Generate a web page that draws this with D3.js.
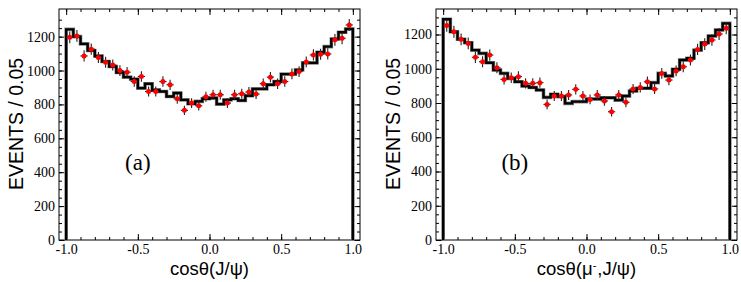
<!DOCTYPE html>
<html>
<head>
<meta charset="utf-8">
<script src="https://cdn.jsdelivr.net/npm/d3@7"></script>
<style>
  html, body { margin: 0; padding: 0; background: #fff; }
  svg { display: block; }
</style>
</head>
<body>
<svg id="chart" width="741" height="282"></svg>
<script>
// ---------------- data ----------------
const binEdges = d3.range(0, 41).map(i => -1 + 0.05 * i);          // 40 bins of 0.05
const xMajorTicks = [-1.0, -0.5, 0.0, 0.5, 1.0];
const xMinorTicks = d3.range(-10, 11).map(i => i / 10);
const yMajorTicks = [0, 200, 400, 600, 800, 1000, 1200];
const yMinorTicks = d3.range(0, 27).map(i => i * 50);

// panel (a): cos(theta) of J/psi
const histA = [1243,1200,1157,1118,1086,1053,1024,988,961,949,896,922,886,876,847,867,827,804,818,833,
               838,802,827,833,823,851,892,892,916,935,979,979,1004,1045,1045,1108,1141,1186,1226,1245];
const dataA = [1196,1204,1086,1126,1077,1049,1033,1000,990,935,965,876,876,935,916,833,765,808,792,845,
               857,857,808,857,863,873,861,922,961,922,935,980,994,1051,1092,1096,1098,1181,1190,1269];

// panel (b): cos(theta) of mu- in J/psi frame
const histB = [1289,1216,1172,1152,1109,1090,1035,993,973,944,924,899,891,876,833,851,837,798,808,
               808,823,823,831,831,817,841,870,886,886,919,973,958,997,1051,1061,1109,1152,1191,1226,1265];
const dataB = [1252,1216,1172,1148,1067,1041,1080,1006,938,948,954,915,915,919,792,841,841,847,880,
               841,821,847,812,749,847,804,882,891,924,882,973,934,987,1012,1051,1113,1144,1168,1203,1236];

const panels = [
  { hist: histA, data: dataA, label: "(a)", title: ["cosθ(J/ψ)"], x0: 59, yMax: 1363 },
  { hist: histB, data: dataB, label: "(b)", title: ["cosθ(μ", "-", ",J/ψ)"], x0: 436, yMax: 1349 }
];

// ---------------- drawing ----------------
const svg = d3.select("#chart");
const W = 301, plotTop = 9, plotBottom = 240;
const serif = "'Liberation Serif', 'Times New Roman', 'DejaVu Serif', serif";
const sans = "'Liberation Sans', Arial, sans-serif";

panels.forEach(p => {
  const x = d3.scaleLinear().domain([-1.05, 1.05]).range([p.x0, p.x0 + W]);
  const y = d3.scaleLinear().domain([0, p.yMax]).range([plotBottom, plotTop]);
  const g = svg.append("g");

  // frame
  g.append("rect").attr("x", p.x0).attr("y", plotTop).attr("width", W).attr("height", plotBottom - plotTop)
    .attr("fill", "none").attr("stroke", "#000").attr("stroke-width", 1);

  // axes (ticks inward)
  const styleAxis = sel => {
    sel.attr("font-family", serif).attr("font-size", 14);
    sel.select(".domain").remove();
    sel.selectAll("line").attr("stroke", "#000").attr("stroke-width", 1);
    sel.selectAll("text").attr("font-family", serif).attr("font-size", 14).attr("fill", "#000");
  };
  g.append("g").attr("transform", `translate(0,${plotBottom})`)
    .call(d3.axisBottom(x).tickValues(xMinorTicks).tickSizeInner(-3).tickSizeOuter(0).tickFormat(""))
    .call(styleAxis);
  g.append("g").attr("transform", `translate(0,${plotBottom})`)
    .call(d3.axisBottom(x).tickValues(xMajorTicks).tickSizeInner(-6).tickSizeOuter(0).tickPadding(4.5)
      .tickFormat(d => d.toFixed(1)))
    .call(styleAxis);
  g.append("g").attr("transform", `translate(0,${plotTop})`)
    .call(d3.axisTop(x).tickValues(xMinorTicks).tickSizeInner(-3).tickSizeOuter(0).tickFormat(""))
    .call(styleAxis);
  g.append("g").attr("transform", `translate(0,${plotTop})`)
    .call(d3.axisTop(x).tickValues(xMajorTicks).tickSizeInner(-6).tickSizeOuter(0).tickFormat(""))
    .call(styleAxis);
  g.append("g").attr("transform", `translate(${p.x0},0)`)
    .call(d3.axisLeft(y).tickValues(yMinorTicks).tickSizeInner(-3).tickSizeOuter(0).tickFormat(""))
    .call(styleAxis);
  g.append("g").attr("transform", `translate(${p.x0},0)`)
    .call(d3.axisLeft(y).tickValues(yMajorTicks).tickSizeInner(-5.5).tickSizeOuter(0).tickPadding(4)
      .tickFormat(d3.format("d")))
    .call(styleAxis);
  g.append("g").attr("transform", `translate(${p.x0 + W},0)`)
    .call(d3.axisRight(y).tickValues(yMinorTicks).tickSizeInner(-3).tickSizeOuter(0).tickFormat(""))
    .call(styleAxis);
  g.append("g").attr("transform", `translate(${p.x0 + W},0)`)
    .call(d3.axisRight(y).tickValues(yMajorTicks).tickSizeInner(-5.5).tickSizeOuter(0).tickFormat(""))
    .call(styleAxis);

  // histogram (step line)
  const pts = [[binEdges[0], 0]];
  p.hist.forEach((v, i) => { pts.push([binEdges[i], v]); pts.push([binEdges[i + 1], v]); });
  pts.push([binEdges[binEdges.length - 1], 0]);
  const line = d3.line().x(d => x(d[0])).y(d => y(d[1]));
  g.append("path").attr("d", line(pts)).attr("fill", "none")
    .attr("stroke", "#888").attr("stroke-width", 3.6).attr("stroke-linejoin", "miter");
  g.append("path").attr("d", line(pts)).attr("fill", "none")
    .attr("stroke", "#000").attr("stroke-width", 2.4).attr("stroke-linejoin", "miter");

  // data points with error bars
  const centers = p.data.map((v, i) => ({ c: (binEdges[i] + binEdges[i + 1]) / 2, v, e: Math.sqrt(v) }));
  const pg = g.append("g");
  pg.selectAll("line.ev").data(centers).join("line").attr("class", "ev")
    .attr("x1", d => x(d.c)).attr("x2", d => x(d.c))
    .attr("y1", d => y(d.v - d.e)).attr("y2", d => y(d.v + d.e))
    .attr("stroke", "#222").attr("stroke-width", 1.1);
  pg.selectAll("line.eh").data(centers).join("line").attr("class", "eh")
    .attr("x1", d => x(d.c - 0.025)).attr("x2", d => x(d.c + 0.025))
    .attr("y1", d => y(d.v)).attr("y2", d => y(d.v))
    .attr("stroke", "#222").attr("stroke-width", 1.1);
  pg.selectAll("circle").data(centers).join("circle")
    .attr("cx", d => x(d.c)).attr("cy", d => y(d.v)).attr("r", 2.5).attr("fill", "#ff0000");

  // panel label
  g.append("text").attr("x", x(-0.5)).attr("y", 170).attr("text-anchor", "middle")
    .attr("font-family", serif).attr("font-size", 23).text(p.label);

  // x title
  const t = g.append("text").attr("x", x(0)).attr("y", 275).attr("text-anchor", "middle")
    .attr("font-family", sans).attr("font-size", 18.5).attr("fill", "#000");
  t.append("tspan").text(p.title[0]);
  if (p.title.length > 1) {
    t.append("tspan").attr("dy", -6).attr("font-size", 11).text(p.title[1]);
    t.append("tspan").attr("dy", 6).attr("dx", 1).text(p.title[2]);
  }

  // y title
  svg.append("text").attr("transform", `translate(${p.x0 - 36.5},124) rotate(-90)`)
    .attr("text-anchor", "middle").attr("font-family", sans).attr("font-size", 19.5).attr("fill", "#000")
    .text("EVENTS / 0.05");
});
</script>
</body>
</html>
